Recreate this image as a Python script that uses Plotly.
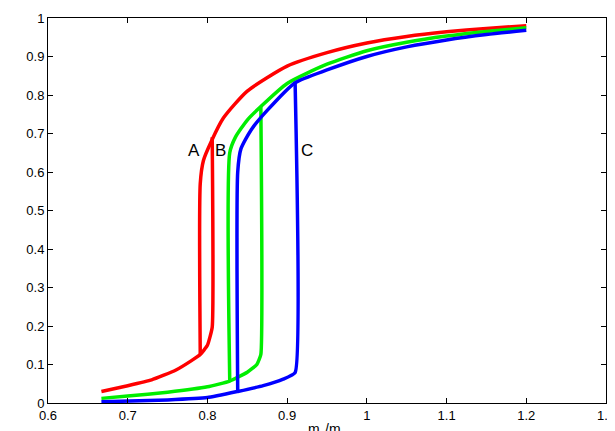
import plotly.graph_objects as go

# upper (magnetised) branches, lower branches, and the jump positions
red_up_x = [0.791, 0.795, 0.805, 0.82, 0.85, 0.9, 0.95, 1.0, 1.05, 1.1, 1.15, 1.2]
red_up_y = [0.57, 0.63, 0.68, 0.74, 0.81, 0.875, 0.91, 0.935, 0.952, 0.964, 0.973, 0.98]
red_lo_x = [0.667, 0.7, 0.73, 0.76, 0.78, 0.791, 0.8, 0.806, 0.806]
red_lo_y = [0.03, 0.045, 0.06, 0.085, 0.11, 0.126, 0.15, 0.197, 0.69]

green_up_x = [0.828, 0.835, 0.85, 0.867, 0.9, 0.95, 1.0, 1.05, 1.1, 1.15, 1.2]
green_up_y = [0.65, 0.69, 0.735, 0.77, 0.83, 0.88, 0.915, 0.937, 0.953, 0.965, 0.975]
green_lo_x = [0.667, 0.7, 0.75, 0.8, 0.828, 0.85, 0.862, 0.867, 0.867]
green_lo_y = [0.012, 0.018, 0.028, 0.042, 0.057, 0.08, 0.1, 0.126, 0.77]

blue_up_x = [0.838, 0.842, 0.855, 0.875, 0.91, 0.95, 1.0, 1.05, 1.1, 1.15, 1.2]
blue_up_y = [0.6, 0.66, 0.71, 0.76, 0.832, 0.865, 0.9, 0.925, 0.943, 0.957, 0.968]
blue_lo_x = [0.667, 0.75, 0.8, 0.838, 0.87, 0.895, 0.91, 0.91]
blue_lo_y = [0.003, 0.008, 0.014, 0.03, 0.045, 0.062, 0.079, 0.832]

labels = ["A", "B", "C"]
label_x = [0.783, 0.817, 0.925]
label_y = [0.655, 0.655, 0.655]

curves = [
    ("#ff0000", red_up_x, red_up_y, red_lo_x, red_lo_y, 0.126),
    ("#00ee00", green_up_x, green_up_y, green_lo_x, green_lo_y, 0.057),
    ("#0000ff", blue_up_x, blue_up_y, blue_lo_x, blue_lo_y, 0.03),
]

fig = go.Figure()
for color, ux, uy, lx, ly, jump_bottom in curves:
    # upper branch plus its drop down to the lower branch
    fig.add_trace(go.Scatter(x=[ux[0]] + ux, y=[jump_bottom] + uy, mode="lines",
                             line=dict(color=color, width=3.5, shape="spline", smoothing=0.6),
                             showlegend=False))
    fig.add_trace(go.Scatter(x=lx, y=ly, mode="lines",
                             line=dict(color=color, width=3.5, shape="spline", smoothing=0.4),
                             showlegend=False))

for t, x, y in zip(labels, label_x, label_y):
    fig.add_annotation(x=x, y=y, text=t, showarrow=False, font=dict(size=17, color="black"))

axis = dict(showline=True, linecolor="black", linewidth=1, mirror="ticks", ticks="inside",
            ticklen=5, tickcolor="black", showgrid=False, zeroline=False,
            tickfont=dict(size=13, color="black"))
fig.update_layout(
    width=615, height=431, margin=dict(l=40, r=17, t=10, b=36),
    plot_bgcolor="white", paper_bgcolor="white",
    font=dict(family="Liberation Sans, Arial, sans-serif", color="black"),
    xaxis=dict(axis, range=[0.6, 1.3], dtick=0.1, automargin=False,
               title=dict(text="m<sub>1</sub>/m<sub>2</sub>", standoff=2, font=dict(size=14))),
    yaxis=dict(axis, range=[0, 1], dtick=0.1, automargin=False),
)
fig.write_html("out.html")
